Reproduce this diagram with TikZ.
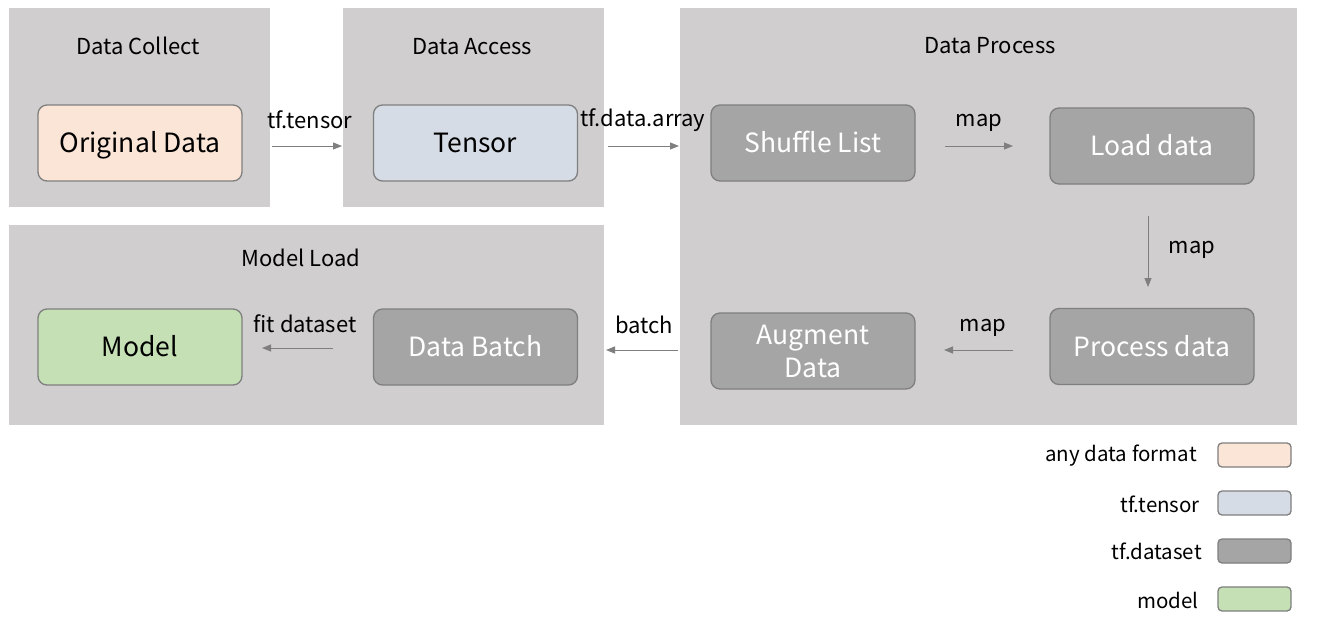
\documentclass[tikz,border=0pt]{standalone}
\usepackage{fontspec}
\setmainfont{Noto Sans CJK SC}
\usetikzlibrary{arrows.meta}
\definecolor{panel}{HTML}{D0CECE}
\definecolor{edge}{HTML}{7F7F7F}
\definecolor{peach}{HTML}{FBE5D6}
\definecolor{steel}{HTML}{D6DCE5}
\definecolor{dsgray}{HTML}{A5A5A5}
\definecolor{mint}{HTML}{C5E0B4}
\tikzset{
  stage/.style={draw=edge, line width=1.3pt, rounded corners=9pt, minimum width=204pt, minimum height=76pt, inner sep=0pt, align=center, font=\fontsize{26.5}{30}\selectfont, text height=19pt, text depth=0pt},
  dsbox/.style={stage, fill=dsgray, text=white},
  title/.style={font=\fontsize{22}{24}\selectfont, text=black},
  lbl/.style={font=\fontsize{22}{24}\selectfont, text=black, inner sep=0pt},
  flow/.style={draw=edge, line width=1pt, -{Triangle[length=9pt,width=7pt]}},
  legbox/.style={draw=edge, line width=1.3pt, rounded corners=4pt, minimum width=73pt, minimum height=24pt, inner sep=0pt},
  legtxt/.style={font=\fontsize{20.5}{24}\selectfont, anchor=east, inner sep=0pt}
}
\begin{document}
\begin{tikzpicture}[x=1pt,y=-1pt]
\useasboundingbox[fill=white] (0,0) rectangle (1320,625);
% panels
\fill[panel] (9,8) rectangle (270,207);
\fill[panel] (343,8) rectangle (604,207);
\fill[panel] (680,8) rectangle (1297,425);
\fill[panel] (9,225) rectangle (604,425);
% titles
\node[title] (tcollect) at (138,46) {Data Collect};
\node[title] (taccess) at (472,47) {Data Access};
\node[title] (tprocess) at (990,46) {Data Process};
\node[title] (tmodel) at (301,258) {Model Load};
% stages
\node[stage, fill=peach] (orig) at (140,143) {Original Data};
\node[stage, fill=steel] (tensor) at (475.5,143) {Tensor};
\node[dsbox] (shuffle) at (813,143) {Shuffle List};
\node[dsbox] (load) at (1152,146) {Load data};
\node[dsbox] (process) at (1152,346.5) {Process data};
\node[dsbox, text height=, text depth=, font=\fontsize{26.5}{33}\selectfont] (augment) at (813,351) {Augment\\Data};
\node[dsbox] (batch) at (475.5,347) {Data Batch};
\node[stage, fill=mint] (model) at (140,347) {Model};
% arrow endpoints
\coordinate (a1s) at (272,146); \coordinate (a1e) at (342,146);
\coordinate (a2s) at (608,146); \coordinate (a2e) at (679,146);
\coordinate (a3s) at (945,146); \coordinate (a3e) at (1013,146);
\coordinate (a4s) at (1148,216); \coordinate (a4e) at (1148,287);
\coordinate (a5s) at (1013,350); \coordinate (a5e) at (944,350);
\coordinate (a6s) at (678,350); \coordinate (a6e) at (606,350);
\coordinate (a7s) at (333,348); \coordinate (a7e) at (262,348);
\draw[flow] (a1s) -- (a1e);
\draw[flow] (a2s) -- (a2e);
\draw[flow] (a3s) -- (a3e);
\draw[flow] (a4s) -- (a4e);
\draw[flow] (a5s) -- (a5e);
\draw[flow] (a6s) -- (a6e);
\draw[flow] (a7s) -- (a7e);
% labels
\node[lbl] (l1) at (310,120) {tf.tensor};
\node[lbl] (l2) at (643,120) {tf.data.array};
\node[lbl] (l3) at (979,123) {map};
\node[lbl] (l4) at (1192,250) {map};
\node[lbl] (l5) at (983,328) {map};
\node[lbl] (l6) at (644,325) {batch};
\node[lbl] (l7) at (305,324) {fit dataset};
% legend
\node[legbox, fill=peach] (lg1) at (1254.5,455) {};
\node[legbox, fill=steel] (lg2) at (1254.5,503) {};
\node[legbox, fill=dsgray] (lg3) at (1254.5,551) {};
\node[legbox, fill=mint] (lg4) at (1254.5,599) {};
\node[legtxt] (lt1) at (1197,456) {any data format};
\node[legtxt] (lt2) at (1200,504) {tf.tensor};
\node[legtxt] (lt3) at (1202,551) {tf.dataset};
\node[legtxt] (lt4) at (1199,600) {model};
\end{tikzpicture}
\end{document}
